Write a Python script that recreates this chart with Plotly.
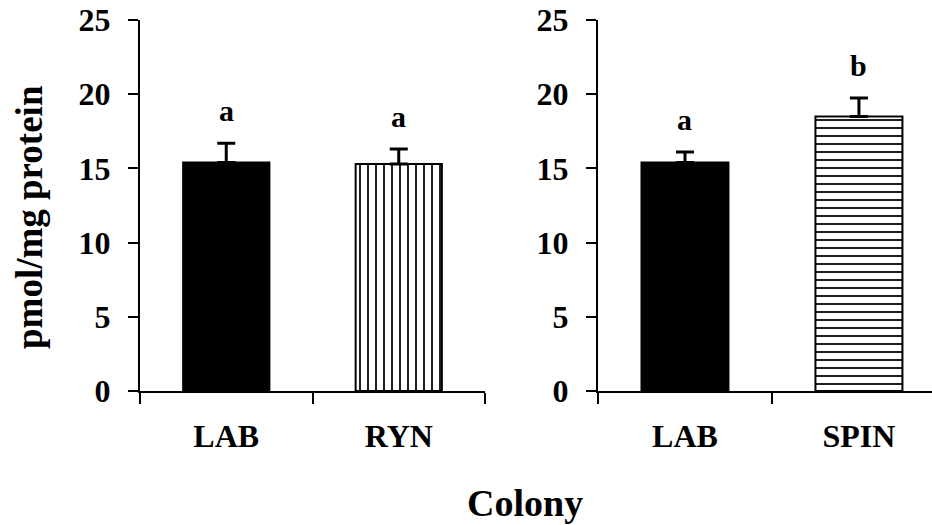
import plotly.graph_objects as go

# ---- data ----
left_categories = ["LAB", "RYN"]
left_values = [15.4, 15.3]
left_errors = [1.3, 1.0]
left_letters = ["a", "a"]

right_categories = ["LAB", "SPIN"]
right_values = [15.4, 18.5]
right_errors = [0.7, 1.25]
right_letters = ["a", "b"]

y_ticks = [0, 5, 10, 15, 20, 25]
y_title = "pmol/mg protein"
x_title = "Colony"

FONT = "Liberation Serif, Times New Roman, serif"
W, H = 932, 525

fig = go.Figure()

patterns_left = ["", "|"]
patterns_right = ["", "-"]


def add_bars(cats, vals, errs, pats, xa, ya):
    for c, v, e, p in zip(cats, vals, errs, pats):
        solid = p == ""
        fig.add_trace(go.Bar(
            x=[c], y=[v], xaxis=xa, yaxis=ya, width=0.5,
            marker=dict(
                color="black" if solid else "white",
                line=dict(color="black", width=2),
                pattern=dict(shape=p, fgcolor="black", bgcolor="white",
                             size=8, solidity=0.22, fillmode="replace") if not solid else None,
            ),
            error_y=dict(type="data", symmetric=False, array=[e], arrayminus=[0],
                         color="black", thickness=3, width=9),
            showlegend=False, hoverinfo="skip",
        ))


add_bars(left_categories, left_values, left_errors, patterns_left, "x", "y")
add_bars(right_categories, right_values, right_errors, patterns_right, "x2", "y2")

# significance letters
for cats, vals, errs, letters, xr, yr in [
    (left_categories, left_values, left_errors, left_letters, "x", "y"),
    (right_categories, right_values, right_errors, right_letters, "x2", "y2"),
]:
    for c, v, e, l in zip(cats, vals, errs, letters):
        fig.add_annotation(x=c, y=v + e + 2.2, xref=xr, yref=yr, text=l, showarrow=False,
                           font=dict(family=FONT, size=30, color="black", weight="bold"),
                           yanchor="middle")

axis_font = dict(family=FONT, size=32, color="black", weight="bold")

yaxis_common = dict(
    range=[0, 25], tickvals=y_ticks, showline=True, linecolor="black", linewidth=2,
    ticks="outside", ticklen=10, tickwidth=2, tickcolor="black", showgrid=False,
    zeroline=False, tickfont=axis_font, ticklabelstandoff=11, automargin=False,
    domain=[1 - 391 / H, 1 - 20 / H],
)
xaxis_common = dict(
    type="category", showline=True, linecolor="black", linewidth=2,
    ticks="outside", ticklen=11, tickwidth=2, tickcolor="black", tickson="boundaries",
    showgrid=False, zeroline=False, tickfont=axis_font, ticklabelstandoff=16,
    automargin=False,
)

fig.update_layout(
    width=W, height=H,
    margin=dict(l=0, r=0, t=0, b=0),
    plot_bgcolor="white", paper_bgcolor="white",
    xaxis=dict(**xaxis_common, domain=[140 / W, 485 / W], range=[-0.5, 1.5], anchor="y"),
    yaxis=dict(**yaxis_common, anchor="x"),
    xaxis2=dict(**xaxis_common, domain=[598 / W, 1.0], range=[-0.5, 1.42], anchor="y2"),
    yaxis2=dict(**yaxis_common, anchor="x2"),
)

fig.add_annotation(x=29 / W, y=1 - 217 / H, xref="paper", yref="paper", text=y_title,
                   textangle=-90, showarrow=False, xanchor="center", yanchor="middle",
                   font=dict(family=FONT, size=37, color="black", weight="bold"))
fig.add_annotation(x=525 / W, y=1 - 503 / H, xref="paper", yref="paper", text=x_title,
                   showarrow=False, xanchor="center", yanchor="middle",
                   font=dict(family=FONT, size=38, color="black", weight="bold"))

fig.write_html("out.html", config={"displayModeBar": False},
               post_script="document.body.style.margin='0';document.body.style.overflow='hidden';")
